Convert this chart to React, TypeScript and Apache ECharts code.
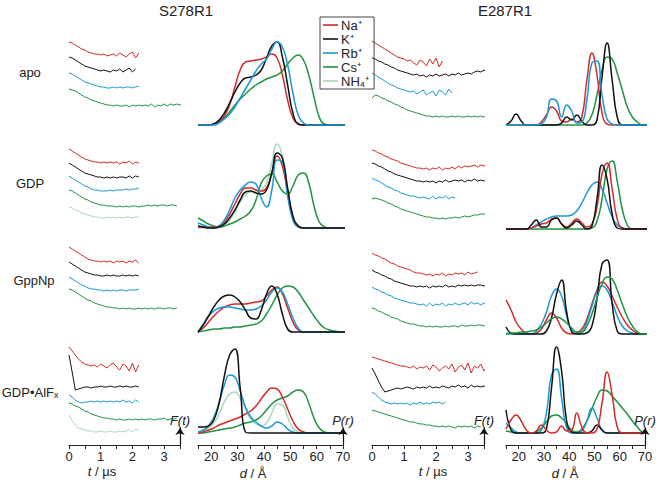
import React, { useEffect, useRef } from "react";
import * as echarts from "echarts";

// ---------- categories ----------
const IONS = ["Na⁺", "K⁺", "Rb⁺", "Cs⁺", "NH₄⁺"];
const ION_COLORS = ["#d42a2a", "#111111", "#1b98d5", "#1e9340", "#a8d9b7"];
const ROW_LABELS = ["apo", "GDP", "GppNp", "GDP•AlFₓ"];
const PANEL_TITLES = ["S278R1", "E287R1"];

// ---------- distance grid (Å) for P(r) ----------
const R_GRID = [15, 17, 19, 21, 23, 25, 27, 29, 31, 33, 35, 37, 39, 41, 43, 45, 47, 49, 51, 53, 55, 57, 59, 61, 63, 65, 67, 69, 71];
// time step of the sampled DEER traces (µs)
const T_STEP_US = 0.1;

// ---------- S278R1 P(r) (a.u.) ----------
const PR_S_APO_NA = [0, 0, 0, 1, 4, 9, 20, 38, 55, 63, 64, 65, 66, 68, 71, 67, 50, 25, 7, 1, 0, 0, 0, 0, 0, 0, 0, 0, 0];
const PR_S_APO_K = [0, 0, 0, 1, 5, 12, 22, 33, 42, 47, 48, 50, 55, 67, 79, 83, 68, 40, 12, 1, 0, 0, 0, 0, 0, 0, 0, 0, 0];
const PR_S_APO_RB = [0, 0, 0, 0, 2, 6, 11, 18, 27, 36, 45, 54, 61, 66, 76, 83, 78, 60, 32, 10, 2, 0, 0, 0, 0, 0, 0, 0, 0];
const PR_S_APO_CS = [0, 0, 0, 1, 3, 7, 13, 20, 26, 31, 36, 40, 43, 46, 48, 50, 54, 61, 67, 70, 65, 50, 28, 8, 1, 0, 0, 0, 0];

const PR_S_GDP_NA = [1, 1, 1, 1, 2, 6, 14, 24, 34, 40, 40, 38, 37, 40, 55, 72, 62, 35, 10, 2, 0, 0, 0, 0, 0, 0, 0, 0, 0];
const PR_S_GDP_K = [2, 1, 0, 0, 1, 4, 10, 18, 28, 36, 37, 35, 34, 38, 55, 75, 70, 40, 12, 2, 0, 0, 0, 0, 0, 0, 0, 0, 0];
const PR_S_GDP_RB = [5, 3, 1, 0, 2, 8, 18, 30, 38, 43, 46, 44, 30, 21, 38, 68, 66, 32, 8, 1, 0, 0, 0, 0, 0, 0, 0, 0, 0];
const PR_S_GDP_CS = [10, 7, 4, 2, 1, 2, 4, 6, 9, 12, 17, 28, 45, 52, 54, 46, 37, 34, 42, 53, 55, 45, 22, 6, 1, 0, 0, 0, 0];
const PR_S_GDP_NH4 = [0, 0, 0, 0, 1, 3, 8, 16, 26, 33, 36, 36, 38, 45, 65, 84, 72, 38, 12, 2, 0, 0, 0, 0, 0, 0, 0, 0, 0];

const PR_S_GPP_NA = [0, 4, 10, 16, 21, 25, 27, 28, 28, 28, 29, 30, 31, 36, 42, 45, 38, 24, 10, 2, 0, 0, 0, 0, 0, 0, 0, 0, 0];
const PR_S_GPP_K = [0, 7, 16, 25, 32, 36, 37, 35, 30, 22, 14, 13, 22, 38, 46, 38, 18, 3, 0, 0, 0, 0, 0, 0, 0, 0, 0, 0, 0];
const PR_S_GPP_RB = [0, 8, 16, 21, 24, 25, 25, 24, 23, 22, 22, 23, 26, 32, 40, 44, 40, 28, 14, 4, 0, 0, 0, 0, 0, 0, 0, 0, 0];
const PR_S_GPP_CS = [0, 1, 2, 3, 3, 4, 4, 5, 5, 6, 7, 8, 11, 18, 27, 37, 44, 46, 45, 40, 32, 24, 16, 9, 4, 2, 1, 0, 0];

const PR_S_ALF_NA = [0, 1, 3, 5, 8, 10, 12, 14, 16, 19, 22, 27, 34, 41, 45, 44, 36, 24, 12, 4, 1, 0, 0, 0, 0, 0, 0, 0, 0];
const PR_S_ALF_K = [6, 6, 7, 13, 30, 57, 78, 84, 45, 1, 0, 0, 0, 0, 0, 0, 0, 0, 0, 0, 0, 0, 0, 0, 0, 0, 0, 0, 0];
const PR_S_ALF_RB = [1, 3, 7, 16, 30, 48, 58, 56, 42, 26, 16, 11, 7, 5, 7, 11, 9, 4, 1, 0, 0, 0, 0, 0, 0, 0, 0, 0, 0];
const PR_S_ALF_CS = [0, 0, 1, 2, 3, 4, 5, 6, 8, 10, 11, 13, 17, 23, 29, 33, 35, 37, 41, 43, 41, 30, 15, 5, 1, 0, 0, 0, 0];
const PR_S_ALF_NH4 = [0, 2, 5, 10, 19, 31, 39, 41, 35, 24, 14, 9, 7, 10, 20, 29, 28, 16, 5, 1, 0, 0, 0, 0, 0, 0, 0, 0, 0];

// ---------- E287R1 P(r) (a.u.) ----------
const PR_E_APO_NA = [0, 0, 0, 0, 0, 0, 0, 3, 10, 18, 14, 4, 3, 6, 3, 8, 45, 72, 50, 12, 1, 0, 0, 0, 0, 0, 0, 0, 0];
const PR_E_APO_K = [0, 4, 11, 4, 0, 0, 0, 0, 0, 0, 0, 2, 8, 5, 10, 4, 0, 0, 5, 48, 82, 45, 8, 0, 0, 0, 0, 0, 0];
const PR_E_APO_RB = [0, 0, 0, 0, 0, 0, 0, 1, 8, 26, 24, 8, 20, 14, 2, 3, 25, 62, 64, 30, 6, 1, 0, 0, 0, 0, 0, 0, 0];
const PR_E_APO_CS = [0, 0, 0, 0, 0, 0, 0, 0, 0, 0, 0, 0, 0, 0, 0, 0, 2, 10, 30, 55, 68, 66, 52, 35, 18, 8, 3, 0, 0];

const PR_E_GDP_NA = [0, 0, 0, 0, 0, 1, 3, 5, 6, 10, 11, 5, 2, 6, 10, 6, 2, 5, 22, 55, 66, 40, 10, 1, 0, 0, 0, 0, 0];
const PR_E_GDP_K = [0, 0, 0, 0, 0, 4, 9, 2, 2, 9, 11, 5, 1, 4, 8, 4, 0, 3, 30, 64, 50, 15, 1, 0, 0, 0, 0, 0, 0];
const PR_E_GDP_RB = [0, 0, 0, 0, 0, 1, 4, 7, 10, 12, 13, 13, 13, 14, 18, 26, 36, 44, 47, 40, 26, 12, 4, 1, 0, 0, 0, 0, 0];
const PR_E_GDP_CS = [0, 0, 0, 0, 0, 0, 0, 0, 0, 0, 0, 0, 0, 0, 0, 0, 0, 1, 8, 30, 60, 68, 48, 20, 4, 0, 0, 0, 0];

const PR_E_GPP_NA = [34, 24, 12, 5, 1, 0, 1, 5, 14, 21, 16, 6, 1, 0, 1, 5, 15, 30, 44, 52, 48, 38, 27, 17, 9, 4, 1, 0, 0];
const PR_E_GPP_K = [7, 1, 0, 0, 0, 0, 0, 0, 3, 16, 40, 54, 22, 2, 0, 0, 1, 8, 35, 70, 74, 30, 3, 0, 0, 0, 0, 0, 0];
const PR_E_GPP_RB = [0, 0, 0, 0, 0, 0, 3, 10, 22, 38, 45, 38, 18, 4, 0, 2, 12, 28, 42, 48, 44, 32, 18, 8, 3, 1, 0, 0, 0];
const PR_E_GPP_CS = [0, 1, 1, 2, 2, 3, 4, 7, 11, 15, 17, 15, 11, 6, 2, 2, 8, 20, 36, 50, 57, 55, 44, 30, 17, 8, 2, 0, 0];

const PR_E_ALF_NA = [4, 13, 18, 12, 3, 0, 2, 8, 3, 0, 1, 7, 2, 3, 20, 6, 0, 0, 4, 30, 61, 38, 6, 0, 0, 0, 0, 0, 0];
const PR_E_ALF_K = [23, 3, 0, 0, 0, 0, 0, 0, 4, 45, 86, 62, 12, 1, 0, 0, 0, 2, 8, 3, 0, 0, 0, 0, 0, 0, 0, 0, 0];
const PR_E_ALF_RB = [10, 5, 1, 0, 0, 0, 0, 3, 20, 58, 64, 35, 5, 0, 0, 2, 12, 25, 15, 3, 0, 0, 0, 0, 0, 0, 0, 0, 0];
const PR_E_ALF_CS = [2, 1, 0, 0, 0, 0, 1, 5, 11, 17, 18, 15, 9, 3, 1, 4, 12, 24, 36, 43, 42, 37, 31, 25, 19, 12, 6, 1, 0];

// ---------- S278R1 DEER traces F(t) (a.u., sampled every T_STEP_US) ----------
const TR_S_APO_NA = [13, 12, 10, 8, 6, 5, 3, 2, 1, 1, 0, 1, -1, 0, 1, -1, 2, 0, -2, 1, 3, -3, 2];
const TR_S_APO_K = [14, 13, 11, 9, 7, 5, 4, 3, 2, 1, 0, 1, 0, -1, 1, 0, 2, -1, 1, 3, -1, 2];
const TR_S_APO_RB = [15, 14, 12, 10, 8, 6, 5, 4, 3, 2, 1, 1, 0, 0, 1, 0, 1, 0, 1, 1, 0, 1, 2];
const TR_S_APO_CS = [17, 16, 15, 13, 11, 9, 8, 6, 5, 4, 3, 2, 1, 1, 0, 1, 0, 0, 1, -1, 1, 0, 1, 0, 1, 0, 2, -1, 1, 0, 2, 0, 2, 1, 2, 1, 2];

const TR_S_GDP_NA = [14, 12, 10, 8, 6, 4, 3, 2, 1, 1, 0, 1, 0, 1, 0, 1, -1, 1, 0, 2, -1, 1, 0];
const TR_S_GDP_K = [15, 13, 11, 9, 7, 5, 4, 3, 2, 1, 1, 0, 1, 0, 1, 0, 1, 1, 0, 2, 0, 2, 1];
const TR_S_GDP_RB = [16, 14, 12, 10, 8, 6, 5, 3, 2, 2, 1, 1, 1, 2, 1, 2, 2, 2, 3, 2, 3, 3, 4];
const TR_S_GDP_CS = [17, 16, 14, 12, 10, 8, 7, 5, 4, 3, 2, 2, 1, 1, 1, 0, 1, 0, 1, 0, 1, 1, 0, 1, 1, 2, 1, 2, 1, 2, 2, 1, 2, 2, 1];
const TR_S_GDP_NH4 = [11, 10, 8, 7, 5, 4, 3, 2, 1, 1, 0, 0, 1, 0, 1, 0, 1, 0, 1, 1, 0, 1, 1];

const TR_S_GPP_NA = [15, 13, 11, 9, 7, 5, 3, 2, 1, 1, 0, 1, 0, 1, -1, 1, 0, 1, -1, 1, 0, 2, -1];
const TR_S_GPP_K = [14, 12, 10, 8, 6, 4, 3, 2, 1, 1, 0, 0, 1, 0, 1, 0, 0, 1, 0, 1, 0, 1, 0];
const TR_S_GPP_RB = [14, 12, 10, 8, 6, 5, 3, 2, 2, 1, 1, 0, 1, 0, 1, 0, 1, 1, 0, 1, 1, 1, 2];
const TR_S_GPP_CS = [20, 19, 17, 15, 13, 11, 9, 8, 6, 5, 4, 3, 2, 2, 1, 1, 0, 1, 0, 1, 0, 0, 1, 0, 1, 0, 1, 0, 1, 1, 0, 1, 1, 0, 1];

const TR_S_ALF_NA = [19, 15, 11, 7, 4, 2, 1, 0, 1, -1, 2, 0, -2, 1, 3, -1, -4, 2, 0, -5, 3, -6, 1];
const TR_S_ALF_K = [32, 15, -3, -2, -1, 0, 0, -1, 0, 0, 1, 0, 0, 1, 0, 0, 1, 0, 1, 0, 0, 1, 0];
const TR_S_ALF_RB = [7, 5, 2, 0, -1, 0, 0, 1, 0, 1, 0, 1, 0, 1, 0, 1, 0, 2, 0, 1, -1, 2, 0];
const TR_S_ALF_CS = [17, 16, 14, 13, 11, 9, 8, 6, 5, 4, 3, 2, 2, 1, 1, 0, 1, 0, 0, 1, 0, 1, 0, 1, 0, 1, 1, 0, 1, 1, 2, 0, 1, 1, 2];
const TR_S_ALF_NH4 = [17, 11, 7, 4, 3, 2, 1, 1, 0, 0, 1, 0, 0, 1, 0, 0, 1, 0, 1, 2, 0, 3, 1];

// ---------- E287R1 DEER traces F(t) ----------
const TR_E_APO_NA = [22, 20, 18, 16, 14, 12, 10, 8, 6, 5, 4, 2, 3, 0, -2, 3, 1, -3, 4, -1, 5, -4, 2];
const TR_E_APO_K = [18, 17, 15, 14, 12, 11, 9, 8, 6, 5, 4, 3, 2, 1, 2, 0, 1, -1, 1, 0, 2, 0, 1, 2, 0, 2, 1, 3, 1, 2, 3, 2, 4, 5, 4, 6, 4];
const TR_E_APO_RB = [20, 18, 16, 14, 12, 10, 8, 7, 5, 4, 3, 2, 1, 2, -1, 1, 3, -2, 0, 2, -3, 3, 1, -2, 4, 0];
const TR_E_APO_CS = [19, 22, 21, 19, 18, 16, 15, 13, 12, 10, 9, 7, 6, 5, 4, 3, 2, 1, 1, 0, 1, 0, 1, 0, 0, 1, 0, 1, 0, 0, 1, 0, 1, 0, 1, 0, 0, 1];

const TR_E_GDP_NA = [19, 18, 16, 15, 13, 12, 10, 9, 8, 6, 5, 4, 3, 2, 1, 1, 0, 1, -1, 1, 0, 2, -1, 1, 0, 2, 0, 3, 1, 3, 2, 3, 4, 2, 4, 3, 4];
const TR_E_GDP_K = [19, 18, 16, 15, 13, 11, 10, 8, 7, 6, 5, 4, 3, 2, 1, 1, 0, 1, 0, 1, -1, 1, 0, 2, 0, 1, 2, 1, 2, 0, 2, 1, 3, 1, 2, 1, 2];
const TR_E_GDP_RB = [20, 18, 17, 15, 13, 11, 10, 8, 7, 5, 4, 3, 2, 2, 1, 0, 1, 0, -1, 2, -1, 1, 0, 2, -1, 1, 0];
const TR_E_GDP_CS = [20, 21, 20, 19, 18, 16, 15, 13, 12, 10, 9, 8, 7, 6, 5, 4, 3, 2, 2, 1, 1, 0, 1, 0, 1, 1, 2, 1, 2, 3, 2, 3, 4, 4, 5, 5, 6];

const TR_E_GPP_NA = [22, 20, 19, 17, 16, 14, 12, 11, 9, 8, 7, 6, 5, 3, 2, 2, 1, 0, 1, -1, 1, 0, 2, -1, 1, 0, 2, 1, 2, 0, 3, 1, 2, 3];
const TR_E_GPP_K = [17, 15, 14, 12, 11, 9, 8, 6, 5, 4, 3, 2, 1, 1, 0, 1, 0, 1, -1, 1, 0, 1, 0, 2, 0, 1, 0, 2, 1, 2, 1, 2, 1, 2, 2, 1, 2];
const TR_E_GPP_RB = [18, 16, 15, 13, 12, 10, 9, 7, 6, 5, 4, 3, 2, 2, 1, 0, 1, -1, 2, -1, 1, 0, 2, -1, 1, 0, 2, 0, 1, 2, 0, 3, 1, 2, 0, 2, 1];
const TR_E_GPP_CS = [19, 18, 16, 15, 13, 12, 10, 9, 8, 6, 5, 4, 3, 3, 2, 1, 1, 0, 1, 0, 1, 0, 0, 1, 0, 1, 1, 0, 2, 1, 1, 2, 1, 2, 2, 1, 2];

const TR_E_ALF_NA = [11, 10, 9, 8, 7, 6, 5, 4, 3, 2, 2, 1, 0, 2, -1, 1, 0, 2, -2, 3, 1, -3, 0, 2, -1, 4, -4, 1, 3, -2, 5, -5, 2, 0, 4, -3, 2];
const TR_E_ALF_K = [20, 14, 7, 1, -4, -3, -2, -1, 0, -1, 0, 1, 0, -1, 1, 0, 1, 0, 2, 0, 1, 0, 2, 1, 0, 2, 1, 3, 1, 2, 0, 3, 1, 2, 1, 2, 1];
const TR_E_ALF_RB = [12, 10, 7, 4, 2, 1, 0, 1, 0, 1, 0, 1, -1, 1, 0, 2, 0, 1, 0, 2, 1, 2, 0, 2];
const TR_E_ALF_CS = [17, 16, 15, 14, 13, 12, 11, 10, 9, 8, 7, 6, 5, 5, 4, 3, 3, 2, 2, 1, 1, 0, 1, 0, 1, 0, -1, 1, 0, 1, 0, 1, -1, 1, 0];

// ---------- layout (pixel positions; not data) ----------
const W = 662;
const H = 485;
const AXIS_Y = 445;
const GRID_TOP = 30;
const FONT = "'Liberation Sans', Arial, Helvetica, sans-serif";
const GRIDS = [
  { left: 69, width: 111 },
  { left: 198, width: 145 },
  { left: 372, width: 112 },
  { left: 506, width: 139 },
];
// ion index: 0 Na, 1 K, 2 Rb, 3 Cs, 4 NH4
type TraceDef = [number, number[], number]; // ion, values, level (px y)
type PrDef = [number, number[]];
const S278_TRACES: TraceDef[][] = [
  [[0, TR_S_APO_NA, 55], [1, TR_S_APO_K, 71], [2, TR_S_APO_RB, 88], [3, TR_S_APO_CS, 106]],
  [[0, TR_S_GDP_NA, 163], [1, TR_S_GDP_K, 178], [2, TR_S_GDP_RB, 192], [3, TR_S_GDP_CS, 207], [4, TR_S_GDP_NH4, 218]],
  [[0, TR_S_GPP_NA, 262], [1, TR_S_GPP_K, 276], [2, TR_S_GPP_RB, 291], [3, TR_S_GPP_CS, 309]],
  [[0, TR_S_ALF_NA, 366], [1, TR_S_ALF_K, 387], [2, TR_S_ALF_RB, 402], [3, TR_S_ALF_CS, 420], [4, TR_S_ALF_NH4, 432]],
];
const E287_TRACES: TraceDef[][] = [
  [[0, TR_E_APO_NA, 63], [1, TR_E_APO_K, 76], [2, TR_E_APO_RB, 93], [3, TR_E_APO_CS, 117]],
  [[0, TR_E_GDP_NA, 169], [1, TR_E_GDP_K, 182], [2, TR_E_GDP_RB, 198], [3, TR_E_GDP_CS, 219]],
  [[0, TR_E_GPP_NA, 275], [1, TR_E_GPP_K, 287], [2, TR_E_GPP_RB, 305], [3, TR_E_GPP_CS, 327]],
  [[0, TR_E_ALF_NA, 368], [1, TR_E_ALF_K, 388], [2, TR_E_ALF_RB, 404], [3, TR_E_ALF_CS, 427]],
];
const S278_PR_BASE = [125, 228, 332, 433];
const E287_PR_BASE = [125, 229, 334, 433];
const S278_PR: PrDef[][] = [
  [[3, PR_S_APO_CS], [0, PR_S_APO_NA], [1, PR_S_APO_K], [2, PR_S_APO_RB]],
  [[4, PR_S_GDP_NH4], [3, PR_S_GDP_CS], [0, PR_S_GDP_NA], [2, PR_S_GDP_RB], [1, PR_S_GDP_K]],
  [[3, PR_S_GPP_CS], [0, PR_S_GPP_NA], [2, PR_S_GPP_RB], [1, PR_S_GPP_K]],
  [[4, PR_S_ALF_NH4], [3, PR_S_ALF_CS], [0, PR_S_ALF_NA], [2, PR_S_ALF_RB], [1, PR_S_ALF_K]],
];
const E287_PR: PrDef[][] = [
  [[3, PR_E_APO_CS], [0, PR_E_APO_NA], [1, PR_E_APO_K], [2, PR_E_APO_RB]],
  [[3, PR_E_GDP_CS], [2, PR_E_GDP_RB], [0, PR_E_GDP_NA], [1, PR_E_GDP_K]],
  [[0, PR_E_GPP_NA], [2, PR_E_GPP_RB], [1, PR_E_GPP_K], [3, PR_E_GPP_CS]],
  [[3, PR_E_ALF_CS], [2, PR_E_ALF_RB], [1, PR_E_ALF_K], [0, PR_E_ALF_NA]],
];

function traceSeries(grid: number, defs: TraceDef[][]) {
  const out: any[] = [];
  defs.forEach((row) =>
    row.forEach(([ion, vals, level]) => {
      out.push({
        type: "line",
        name: IONS[ion],
        xAxisIndex: grid,
        yAxisIndex: grid,
        data: vals.map((v, i) => [+(i * T_STEP_US).toFixed(2), AXIS_Y - level + v]),
        symbol: "none",
        showSymbol: false,
        clip: false,
        silent: true,
        lineStyle: { color: ION_COLORS[ion], width: 1 },
        itemStyle: { color: ION_COLORS[ion] },
      });
    })
  );
  return out;
}

function prSeries(grid: number, defs: PrDef[][], bases: number[]) {
  const out: any[] = [];
  defs.forEach((row, ri) =>
    row.forEach(([ion, vals]) => {
      out.push({
        type: "line",
        name: IONS[ion],
        xAxisIndex: grid,
        yAxisIndex: grid,
        data: R_GRID.map((r, i) => [r, AXIS_Y - bases[ri] + vals[i]]),
        symbol: "none",
        showSymbol: false,
        smooth: 0.5,
        clip: true,
        silent: true,
        lineStyle: { color: ION_COLORS[ion], width: 1.5 },
        itemStyle: { color: ION_COLORS[ion] },
      });
    })
  );
  return out;
}

function arrowSeries(grid: number, x: number, label: string) {
  return {
    type: "line",
    name: "arrow" + grid,
    xAxisIndex: grid,
    yAxisIndex: grid,
    data: [],
    silent: true,
    markLine: {
      silent: true,
      animation: false,
      symbol: ["none", "arrow"],
      symbolSize: 7,
      lineStyle: { color: "#111", width: 1.2, type: "solid" },
      label: {
        show: true,
        position: "end",
        formatter: label,
        fontStyle: "italic",
        fontSize: 13,
        fontFamily: FONT,
        color: "#222",
        distance: 1,
      },
      data: [[{ coord: [x, 0] }, { coord: [x, 17] }]],
    },
  };
}

function xAxisFor(grid: number, kind: "t" | "r") {
  const base: any = {
    type: "value",
    gridIndex: grid,
    axisLine: { show: true, lineStyle: { color: "#222", width: 1.2 } },
    axisTick: { show: true, inside: false, length: 4, lineStyle: { color: "#222" } },
    splitLine: { show: false },
    axisLabel: { margin: 5, fontSize: 13, color: "#222", fontFamily: FONT },
  };
  if (kind === "t") {
    base.min = 0;
    base.max = 3.5;
    base.interval = 0.5;
    base.axisLabel.formatter = (v: number) => (Number.isInteger(v) && v <= 3 ? String(v) : "");
  } else {
    base.min = 15;
    base.max = 70;
    base.interval = 5;
    base.axisLabel.formatter = (v: number) => (v % 10 === 0 ? String(v) : "");
  }
  return base;
}

function textEl(text: string, x: number, y: number, size: number, rich?: any) {
  return {
    type: "text",
    x,
    y,
    silent: true,
    style: {
      text,
      fill: "#222",
      font: `${size}px ${FONT}`,
      fontSize: size,
      fontFamily: FONT,
      textAlign: "center",
      textVerticalAlign: "middle",
      align: "center",
      verticalAlign: "middle",
      rich,
    },
  };
}

export default function App() {
  const ref = useRef<HTMLDivElement>(null);
  useEffect(() => {
    if (!ref.current) return;
    const chart = echarts.init(ref.current, undefined, { renderer: "svg" });
    const italicRich = {
      i: { fontStyle: "italic", fontSize: 13, fontFamily: FONT, fill: "#222", color: "#222" },
      n: { fontSize: 13, fontFamily: FONT, fill: "#222", color: "#222" },
    };
    const option: any = {
      animation: false,
      backgroundColor: "#ffffff",
      grid: GRIDS.map((g) => ({ left: g.left, width: g.width, top: GRID_TOP, height: AXIS_Y - GRID_TOP })),
      xAxis: [xAxisFor(0, "t"), xAxisFor(1, "r"), xAxisFor(2, "t"), xAxisFor(3, "r")],
      yAxis: GRIDS.map((_, i) => ({ type: "value", gridIndex: i, min: 0, max: AXIS_Y - GRID_TOP, show: false })),
      legend: {
        data: IONS,
        orient: "vertical",
        left: 320,
        top: 17,
        icon: "rect",
        itemWidth: 15,
        itemHeight: 1.6,
        itemGap: 0,
        padding: [1, 5, 1, 3],
        borderColor: "#444",
        borderWidth: 1,
        selectedMode: false,
        textStyle: { fontSize: 13, lineHeight: 14, fontFamily: FONT, color: "#222", padding: [0, 0, 0, -2] },
      },
      graphic: [
        textEl(PANEL_TITLES[0], 186, 10, 15),
        textEl(PANEL_TITLES[1], 505, 10, 15),
        textEl(ROW_LABELS[0], 30, 72, 13),
        textEl(ROW_LABELS[1], 30, 183, 13),
        textEl(ROW_LABELS[2], 34, 280, 13),
        textEl(ROW_LABELS[3], 30, 392, 13),
        textEl("{i|t}{n| / µs}", 102, 471, 13, italicRich),
        textEl("{i|t}{n| / µs}", 433, 471, 13, italicRich),
        textEl("{i|d}{n| / Å}", 253, 473, 13, italicRich),
        textEl("{i|d}{n| / Å}", 565, 473, 13, italicRich),
      ],
      series: [
        ...traceSeries(0, S278_TRACES),
        ...prSeries(1, S278_PR, S278_PR_BASE),
        ...traceSeries(2, E287_TRACES),
        ...prSeries(3, E287_PR, E287_PR_BASE),
        arrowSeries(0, 3.5, "F(t)"),
        arrowSeries(1, 70, "P(r)"),
        arrowSeries(2, 3.5, "F(t)"),
        arrowSeries(3, 70, "P(r)"),
      ],
    };
    chart.setOption(option);
    return () => chart.dispose();
  }, []);
  return (
    <div
      ref={ref}
      style={{ position: "fixed", left: 0, top: 0, width: W, height: H, background: "#fff" }}
    />
  );
}
